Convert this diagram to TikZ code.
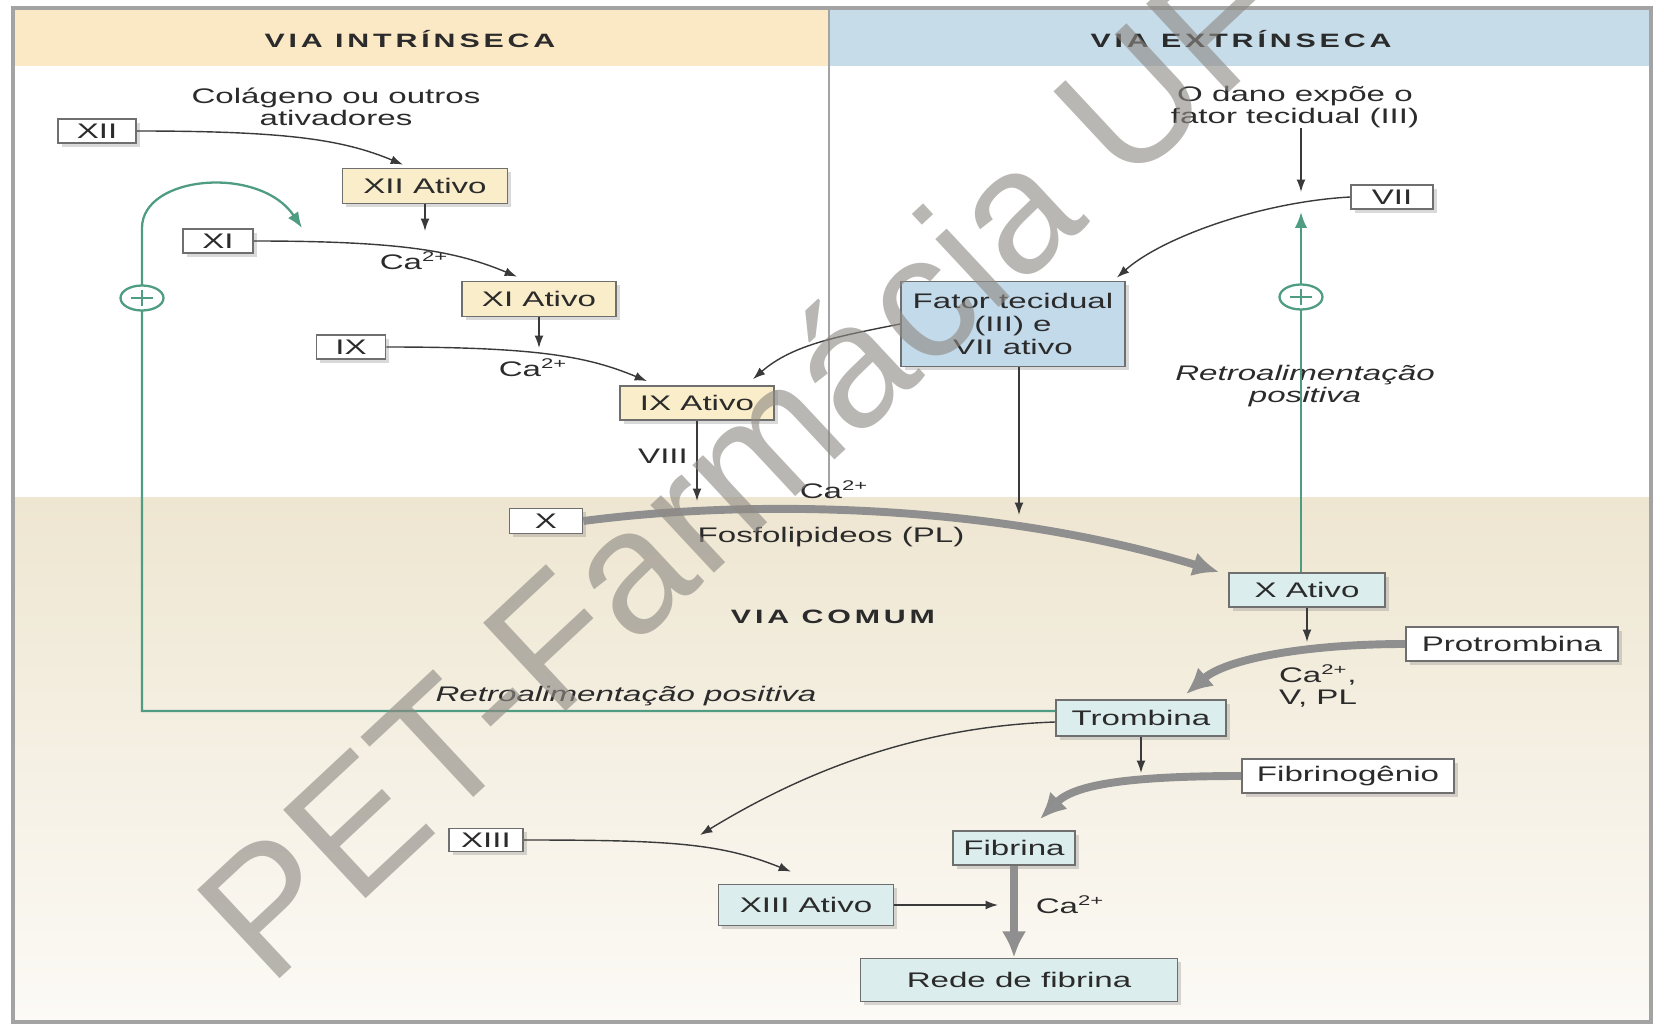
\documentclass[tikz,border=0pt]{standalone}
\usepackage{fontspec}
\setmainfont{Liberation Sans}[FakeStretch=1.57]
\newfontfamily\titulo{Liberation Sans}[FakeStretch=1.57,LetterSpace=20]
\newfontfamily\marca{Liberation Sans}
\usetikzlibrary{arrows.meta,calc,shapes,shadows}

\definecolor{borda}{HTML}{6F6F6F}
\definecolor{texto}{HTML}{2B2B2B}
\definecolor{linha}{HTML}{3A3A3A}
\definecolor{cinza}{HTML}{8F8F8F}
\definecolor{verde}{HTML}{4E9C82}
\definecolor{cabintr}{HTML}{FBE9C6}
\definecolor{cabextr}{HTML}{C6DCE9}
\definecolor{fillintr}{HTML}{FAEDC9}
\definecolor{fillextr}{HTML}{C3DAEA}
\definecolor{fillcomum}{HTML}{DBEDEC}
\definecolor{comumtopo}{HTML}{EEE6D1}
\definecolor{comumbase}{HTML}{FCFAF6}
\definecolor{moldura}{HTML}{A3A3A3}
\definecolor{marcacor}{HTML}{8E8A84}

\newcommand{\corpo}{\fontsize{12}{12.5}\selectfont}

\tikzset{
  caixa/.style={draw=borda,line width=1pt,inner sep=0pt,text=texto,font=\corpo,
    drop shadow={shadow xshift=2pt,shadow yshift=-2pt,opacity=.3}},
  branca/.style={caixa,fill=white},
  intr/.style={caixa,fill=fillintr},
  extr/.style={caixa,fill=fillextr},
  comum/.style={caixa,fill=fillcomum},
  rotulo/.style={inner sep=0pt,text=texto,font=\corpo},
  rotit/.style={rotulo,font=\corpo\itshape},
  cabec/.style={inner sep=0pt,text=texto,font=\titulo\fontsize{11}{11}\selectfont\bfseries},
  seta/.style={draw=linha,line width=0.8pt,-{Latex[length=7pt,width=5pt]}},
  grossa/.style={draw=cinza,line width=4.5pt,-{Latex[length=15pt,width=14pt]}},
  verdelinha/.style={draw=verde,line width=1.3pt},
  mais/.style={ellipse,draw=verde,line width=1.3pt,fill=white,minimum width=0.86cm,minimum height=0.5cm,inner sep=0pt},
  marcad/.style={rotate=43,text=marcacor,opacity=.62,font=\marca\fontsize{100}{100}\selectfont}
}

\begin{document}
\begin{tikzpicture}[x=0.02cm,y=-0.02cm]
  \useasboundingbox (0,0) rectangle (1664,1027);
  %fundo e moldura
  \fill[cabintr] (13,8) rectangle (829,66);
  \fill[cabextr] (829,8) rectangle (1651,66);
  \shade[top color=comumtopo,bottom color=comumbase] (13,497) rectangle (1651,1022);
  \draw[moldura,line width=1.2pt] (829,8) -- (829,497);
  \draw[moldura,line width=1.8pt] (13,8) rectangle (1651,1022);

  %títulos
  \node[cabec] (tintr) at (410,39) {VIA INTRÍNSECA};
  \node[cabec] (textr) at (1241,39) {VIA EXTRÍNSECA};
  \node[cabec] (tcomum) at (833,617) {VIA COMUM};

  %via intrínseca
  \node[branca,minimum width=1.56cm,minimum height=0.48cm] (XII) at (97,131) {XII};
  \node[intr,minimum width=3.3cm,minimum height=0.7cm] (XIIa) at (425,186) {XII Ativo};
  \node[branca,minimum width=1.4cm,minimum height=0.48cm] (XI) at (218,241) {XI};
  \node[intr,minimum width=3.08cm,minimum height=0.7cm] (XIa) at (539,299) {XI Ativo};
  \node[branca,minimum width=1.38cm,minimum height=0.48cm] (IX) at (351,347) {IX};
  \node[intr,minimum width=3.08cm,minimum height=0.68cm] (IXa) at (697,403) {IX Ativo};
  \node[rotulo,align=center] (colag) at (336,107) {Colágeno ou outros\\ativadores};
  \node[rotulo] (ca1) at (414,261) {Ca\textsuperscript{2+}};
  \node[rotulo] (ca2) at (533,368) {Ca\textsuperscript{2+}};
  \node[rotulo] (viii) at (663,456) {VIII};

  %via extrínseca
  \node[rotulo,align=center] (dano) at (1295,107) {O dano expõe o\\fator tecidual (III)};
  \node[branca,minimum width=1.64cm,minimum height=0.48cm] (VII) at (1392,197) {VII};
  \node[extr,minimum width=4.48cm,minimum height=1.7cm,align=center,
    font=\fontsize{12}{13.3}\selectfont] (FT) at (1013,324) {Fator tecidual\\(III) e\\VII ativo};
  \node[rotit,align=center] (retroE) at (1305,386) {Retroalimentação\\positiva};

  %via comum
  \node[branca,minimum width=1.46cm,minimum height=0.5cm] (X) at (546,521) {X};
  \node[comum,minimum width=3.12cm,minimum height=0.68cm] (Xa) at (1307,590) {X Ativo};
  \node[branca,minimum width=4.24cm,minimum height=0.68cm] (Prot) at (1512,644) {Protrombina};
  \node[comum,minimum width=3.4cm,minimum height=0.72cm] (Trom) at (1141,718) {Trombina};
  \node[branca,minimum width=4.24cm,minimum height=0.68cm] (Fgen) at (1348,776) {Fibrinogênio};
  \node[branca,minimum width=1.48cm,minimum height=0.46cm] (XIII) at (486,840) {XIII};
  \node[comum,minimum width=2.44cm,minimum height=0.68cm] (Fib) at (1014,848) {Fibrina};
  \node[comum,minimum width=3.5cm,minimum height=0.82cm] (XIIIa) at (806,905) {XIII Ativo};
  \node[comum,minimum width=6.34cm,minimum height=0.86cm] (Rede) at (1019,980) {Rede de fibrina};
  \node[rotulo] (ca3) at (834,490) {Ca\textsuperscript{2+}};
  \node[rotulo] (fosfo) at (831,537) {Fosfolipideos (PL)};
  \node[rotulo,align=left] (caV) at (1318,686) {Ca\textsuperscript{2+},\\V, PL};
  \node[rotit] (retroI) at (626,696) {Retroalimentação positiva};
  \node[rotulo] (ca4) at (1070,905) {Ca\textsuperscript{2+}};

  %pontas livres
  \coordinate (c1) at (425,231);
  \coordinate (c2) at (539,348);
  \coordinate (c3) at (697,501);
  \coordinate (c4) at (1301,192);
  \coordinate (c5) at (1019,515);
  \coordinate (c6) at (1307,642);
  \coordinate (c7) at (1141,773);
  \coordinate (c8) at (700,835);
  \coordinate (c9) at (998,905);
  \coordinate (g1) at (142,711);
  \coordinate (g2) at (142,228);
  \coordinate (g3) at (302,228);
  \coordinate (g4) at (1301,212);

  %setas finas
  \draw[seta] (XII.east) .. controls +(150,0) and +(-60,-25) .. ($(XIIa.north)+(-22,-3)$);
  \draw[seta] (XIIa.south) -- (c1);
  \draw[seta] (XI.east) .. controls +(150,0) and +(-60,-25) .. ($(XIa.north)+(-22,-4)$);
  \draw[seta] (XIa.south) -- (c2);
  \draw[seta] (IX.east) .. controls +(150,0) and +(-60,-25) .. ($(IXa.north)+(-50,-4)$);
  \draw[seta] (IXa.south) -- (c3);
  \draw[seta] (FT.west) .. controls +(-60,12) and +(40,-35) .. ($(IXa.north)+(56,-6)$);
  \draw[seta] (VII.west) .. controls +(-90,5) and +(45,-40) .. ($(FT.north east)+(-9,-3)$);
  \draw[seta] (dano.south -| c4) -- (c4);
  \draw[seta] (FT.south -| c5) -- (c5);
  \draw[seta] (Xa.south) -- (c6);
  \draw[seta] (Trom.south) -- (c7);
  \draw[seta] ($(Trom.west)+(0,4)$) .. controls +(-150,5) and +(90,-55) .. (c8);
  \draw[seta] (XIII.east) .. controls +(150,0) and +(-70,-28) .. ($(XIIIa.north)+(-15,-12)$);
  \draw[seta] (XIIIa.east) -- (c9);

  %setas grossas
  \draw[grossa] (X.east) .. controls (760,498) and (1000,505) .. ($(Xa.north west)+(-9,0)$);
  \draw[grossa] (Prot.west) .. controls +(-100,0) and +(40,-35) .. ($(Trom.north)+(45,-5)$);
  \draw[grossa] (Fgen.west) .. controls +(-110,0) and +(35,-35) .. ($(Fib.north)+(26,-11)$);
  \draw[grossa] (Fib.south) -- (Fib.south |- Rede.north);

  %retroalimentação
  \draw[verdelinha,-{Latex[length=9pt,width=7pt]}] ($(Trom.west)+(0,-7)$) -- (g1) -- (g2)
    .. controls +(0,-53) and +(-42,-63) .. (g3);
  \draw[verdelinha,-{Latex[length=9pt,width=7pt]}] (Xa.north -| g4) -- (g4);
  \node[mais] (mais1) at (142,298) {};
  \node[mais] (mais2) at (1301,297) {};
  \foreach \m in {mais1,mais2}
    \draw[verde,line width=1.3pt] ($(\m)+(-11,0)$) -- ($(\m)+(11,0)$) ($(\m)+(0,-8)$) -- ($(\m)+(0,8)$);

  %marca d'água
  \node[marcad] (pet) at (740,462) {PET-Farmácia UF};
\end{tikzpicture}
\end{document}
